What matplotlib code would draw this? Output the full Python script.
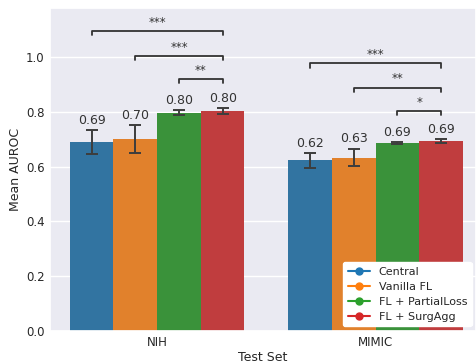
import matplotlib
matplotlib.use("Agg")
import matplotlib.pyplot as plt
import numpy as np
import seaborn as sns
from matplotlib.lines import Line2D

sns.set_theme(style="darkgrid")
plt.rcParams['font.family'] = ['DejaVu Sans']

test_sets = ["NIH", "MIMIC"]
methods = ["Central", "Vanilla FL", "FL + PartialLoss", "FL + SurgAgg"]
means = {
    "Central": [0.689, 0.623],
    "Vanilla FL": [0.701, 0.633],
    "FL + PartialLoss": [0.797, 0.686],
    "FL + SurgAgg": [0.803, 0.693],
}
errs = {
    "Central": [0.044, 0.027],
    "Vanilla FL": [0.050, 0.032],
    "FL + PartialLoss": [0.010, 0.004],
    "FL + SurgAgg": [0.010, 0.008],
}
# significance brackets: (group index, method i, method j, y, label)
sig_group = [0, 0, 0, 1, 1, 1]
sig_i = [0, 1, 2, 0, 1, 2]
sig_j = [3, 3, 3, 3, 3, 3]
sig_y = [1.095, 1.004, 0.919, 0.977, 0.889, 0.802]
sig_label = ["***", "***", "**", "***", "**", "*"]

base = sns.color_palette("tab10", 4)
bar_colors = [sns.desaturate(c, 0.75) for c in base]

fig = plt.figure(figsize=(4.77, 3.64), dpi=100)
ax = fig.add_axes([0.105, 0.092, 0.893, 0.886])

width = 0.2
x = np.arange(len(test_sets))
for k, m in enumerate(methods):
    pos = x + (k - 1.5) * width
    ax.bar(pos, means[m], width=width, color=bar_colors[k], edgecolor="none", zorder=2)
    ax.errorbar(pos, means[m], yerr=errs[m], fmt="none", ecolor="#3d3d3d",
                elinewidth=1.4, capsize=4, capthick=1.4, zorder=3)
    for p, v, e in zip(pos, means[m], errs[m]):
        ax.text(p, v + e + 0.012, f"{v:.2f}", ha="center", va="bottom",
                fontsize=9, color="#333333", zorder=4)

tick = 0.015
for g, i, j, yv, lab in zip(sig_group, sig_i, sig_j, sig_y, sig_label):
    x1 = x[g] + (i - 1.5) * width
    x2 = x[g] + (j - 1.5) * width
    ax.plot([x1, x1, x2, x2], [yv - tick, yv, yv, yv - tick], color="#333333", lw=1.3, zorder=4)
    ax.text((x1 + x2) / 2, yv + 0.008, lab, ha="center", va="bottom", fontsize=8.5, color="#333333")

ax.set_xlim(-0.49, 1.46)
ax.set_ylim(0, 1.18)
ax.set_xticks(x)
ax.set_xticklabels(test_sets, fontsize=8.5)
ax.set_yticks([0, 0.2, 0.4, 0.6, 0.8, 1.0])
ax.set_yticklabels(["0.0", "0.2", "0.4", "0.6", "0.8", "1.0"], fontsize=8.5)
ax.tick_params(axis="both", length=0, pad=4, colors="#262626")
ax.grid(axis="x", visible=False)
ax.set_xlabel("Test Set", fontsize=9, labelpad=1.5, color="#262626")
ax.set_ylabel("Mean AUROC", fontsize=9, labelpad=3, color="#262626")

handles = [Line2D([0], [0], color=c, marker="o", markersize=5, lw=1.5) for c in base]
leg = ax.legend(handles, methods, loc="lower right", fontsize=8, frameon=True,
                facecolor="white", framealpha=1.0, edgecolor="white",
                borderaxespad=0.4, handlelength=2.0, labelspacing=0.45)

fig.savefig("out.png", dpi=100)
